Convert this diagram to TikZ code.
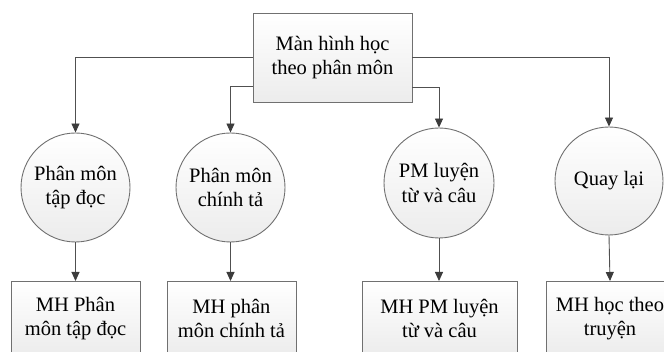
\documentclass[tikz,border=0pt]{standalone}
\usepackage{fontspec}
\setmainfont{Liberation Serif}[Ligatures=TeX]
\usetikzlibrary{arrows.meta}
\definecolor{edgegray}{RGB}{112,112,112}
\definecolor{linegray}{RGB}{80,80,80}
\definecolor{tipgray}{RGB}{60,60,60}
\definecolor{fillbottom}{RGB}{236,236,236}
\tikzset{
  base/.style={draw=edgegray, line width=0.9pt, top color=white, bottom color=fillbottom,
    align=center, inner sep=0pt,
    font=\rmfamily\fontsize{20.5}{24.5}\selectfont},
  screenbox/.style={base, rectangle, minimum height=74pt},
  choice/.style={base, circle},
  arr/.style={draw=linegray, line width=0.9pt,
    -{Triangle[length=9pt,width=8pt,fill=tipgray,color=tipgray]}},
}
\begin{document}
\begin{tikzpicture}[x=1pt,y=-1pt]
  \useasboundingbox (0,0) rectangle (664,352);

  % top screen
  \node[base, rectangle, minimum width=159pt, minimum height=89pt] (top) at (332.5,57.5)
    {Màn hình học\\theo phân môn};

  % subject choices
  \node[choice, minimum size=109pt] (c1) at (75.5,187.5) {Phân môn\\tập đọc};
  \node[choice, minimum size=109pt] (c2) at (230.5,187.5) {Phân môn\\chính tả};
  \node[choice, minimum size=110pt] (c3) at (439,183) {PM luyện\\từ và câu};
  \node[choice, minimum size=108pt] (c4) at (609,181) {Quay lại};

  % target screens
  \node[screenbox, minimum width=129pt, anchor=north] (s1) at (75.5,281) {MH Phân\\môn tập đọc};
  \node[screenbox, minimum width=129pt, anchor=north] (s2) at (231.5,281) {MH phân\\môn chính tả};
  \node[screenbox, minimum width=155pt, anchor=north] (s3) at (439.5,281) {MH PM luyện\\từ và câu};
  \node[screenbox, minimum width=128pt, anchor=north] (s4) at (610,281) {MH học theo\\truyện};

  % connectors from the top screen
  \draw[arr] (top.west) -| (c1.north);
  \draw[arr] ([yshift=-29pt]top.west) -| (c2.north);
  \draw[arr] ([yshift=-29.5pt]top.east) -| (c3.north);
  \draw[arr] (top.east) -| (c4.north);

  % connectors from choices to screens
  \draw[arr] (c1.south) -- (s1.north);
  \draw[arr] (c2.south) -- (c2.south |- s2.north);
  \draw[arr] (c3.south) -- (c3.south |- s3.north);
  \draw[arr] (c4.south) -- (s4.north);
\end{tikzpicture}
\end{document}
